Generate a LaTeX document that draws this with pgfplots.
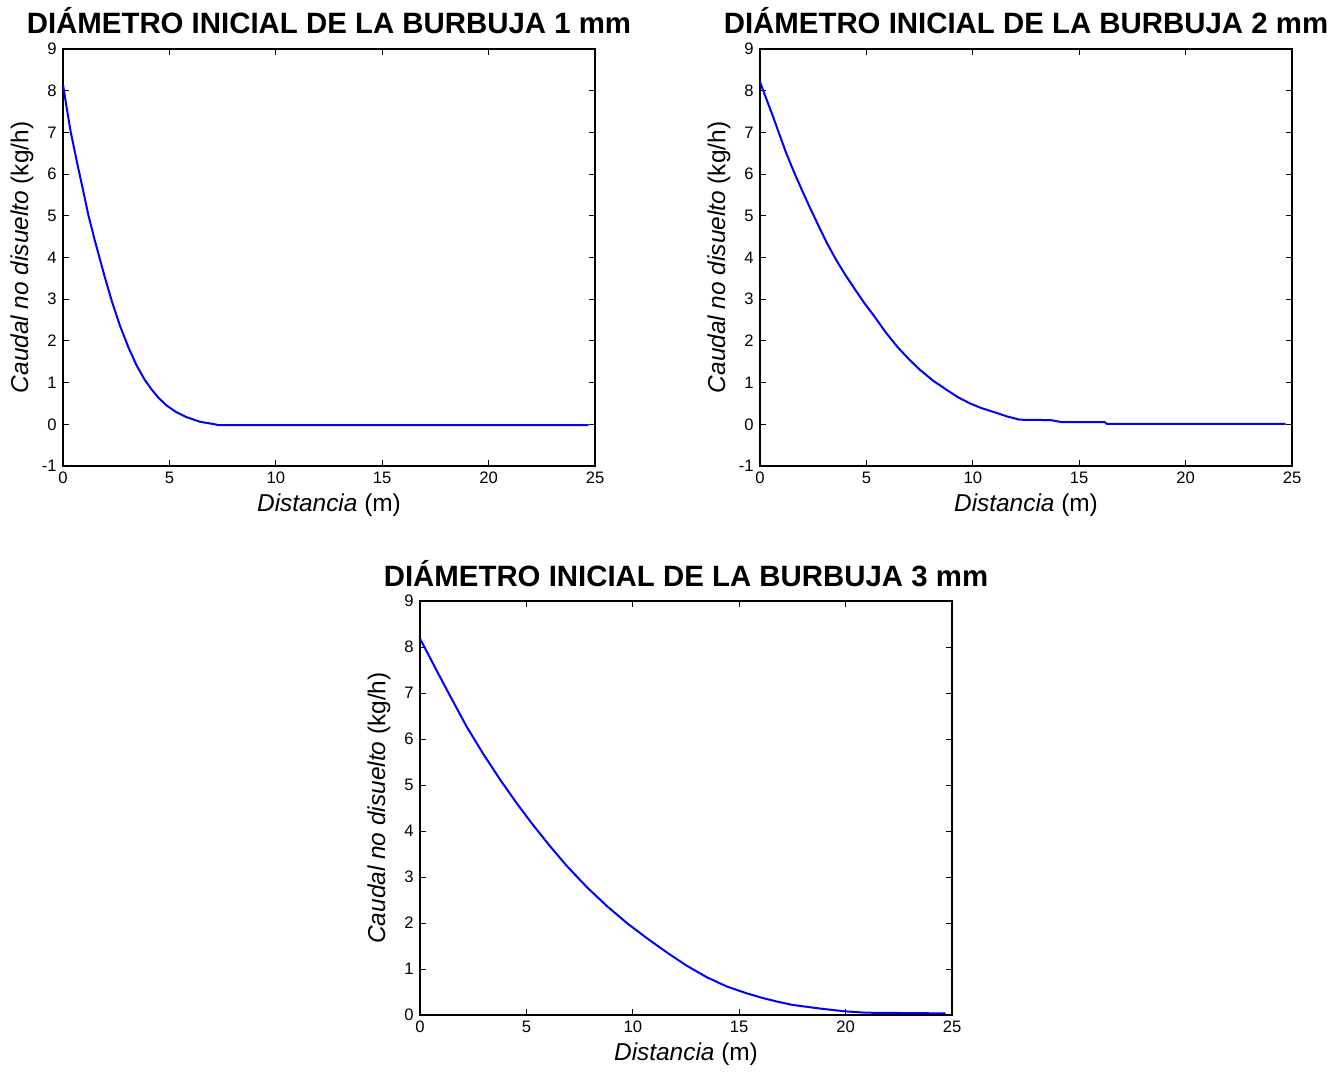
\documentclass[border=0pt]{standalone}
\usepackage{fontspec}
\setmainfont{Liberation Sans}
\usepackage{pgfplots}
\pgfplotsset{compat=1.18}
\pgfplotsset{myax/.style={
  scale only axis, width=266pt, height=208.5pt,
  xmin=0, xmax=25, ymin=-1, ymax=9,
  xtick={0,5,...,25}, ytick={-1,0,...,9},
  tick align=inside, major tick length=3pt,
  tick style={black, line width=0.5pt},
  axis line style={black, line width=0.6pt},
  tick label style={font=\fontsize{8.3}{9}\selectfont},
  xticklabel style={inner sep=0pt, yshift=-3pt},
  yticklabel style={inner sep=0pt, xshift=-3pt},
  /pgf/number format/assume math mode=true,
  xlabel={\textit{Distancia} (m)},
  ylabel={\textit{Caudal no disuelto} (kg/h)},
  xlabel style={font=\fontsize{12.2}{14}\selectfont, at={(axis description cs:0.5,0)}, anchor=north, inner sep=0pt, yshift=-13.5pt},
  ylabel style={font=\fontsize{12.2}{14}\selectfont, at={(axis description cs:-0.077,0.5)}, anchor=center, inner sep=0pt},
  title style={font=\bfseries\fontsize{14.7}{17}\selectfont, at={(axis description cs:0.5,1)}, anchor=base, inner sep=0pt, yshift=1.5pt},
  no markers,
  anchor=south west,
}}
\begin{document}
\begin{tikzpicture}
\useasboundingbox (0,0) rectangle (671.5pt,535.5pt);
\begin{axis}[myax, at={(31.5pt,302.5pt)}, title={DIÁMETRO INICIAL DE LA BURBUJA 1 mm}]
\addplot[blue, line width=1pt, mark=none] coordinates {
(0,8.15) (0.17,7.60) (0.36,7.02) (0.61,6.40) (0.80,5.95) (1.0,5.48) (1.19,5.02)
(1.50,4.40) (1.74,3.95) (1.97,3.52) (2.29,2.96) (2.68,2.36) (3.07,1.85) (3.46,1.41)
(3.85,1.06) (4.17,0.83) (4.5,0.63) (4.87,0.45) (5.3,0.30) (5.81,0.17) (6.44,0.06) (7.14,0.0)
(7.3,-0.02) (24.7,-0.02)};
\end{axis}
\begin{axis}[myax, at={(380pt,302.5pt)}, title={DIÁMETRO INICIAL DE LA BURBUJA 2 mm}]
\addplot[blue, line width=1pt, mark=none] coordinates {
(0,8.21) (0.3,7.80) (0.59,7.41) (0.9,6.97) (1.22,6.52) (1.58,6.07) (1.95,5.64)
(2.35,5.19) (2.76,4.75) (3.15,4.34) (3.57,3.95) (4.0,3.59) (4.47,3.23) (4.9,2.91) (5.37,2.59)
(5.9,2.21) (6.45,1.86) (7.0,1.56) (7.53,1.30) (8.15,1.04) (8.79,0.82) (9.3,0.65) (9.87,0.50)
(10.4,0.39) (10.95,0.30) (11.6,0.19) (12.2,0.11)
(13.66,0.10) (14.2,0.05) (16.2,0.05) (16.3,0.01) (24.7,0.01)};
\end{axis}
\begin{axis}[myax, at={(210pt,28pt)}, height=207pt, ymin=0, ytick={0,1,...,9}, title={DIÁMETRO INICIAL DE LA BURBUJA 3 mm}]
\addplot[blue, line width=1pt, mark=none] coordinates {
(0,8.18) (0.4,7.83) (0.78,7.49) (1.41,6.94) (2.19,6.27) (2.98,5.67) (3.76,5.12) (4.55,4.60)
(5.33,4.12) (6.11,3.67) (6.90,3.24) (7.84,2.78) (8.78,2.37) (9.72,2.00) (10.66,1.67)
(11.6,1.36) (12.54,1.07) (13.48,0.82) (14.42,0.62) (15.36,0.47) (16.1,0.37) (16.8,0.29) (17.5,0.22)
(18.8,0.14) (19.96,0.08) (20.95,0.05) (24.7,0.035)};
\end{axis}
\end{tikzpicture}
\end{document}
